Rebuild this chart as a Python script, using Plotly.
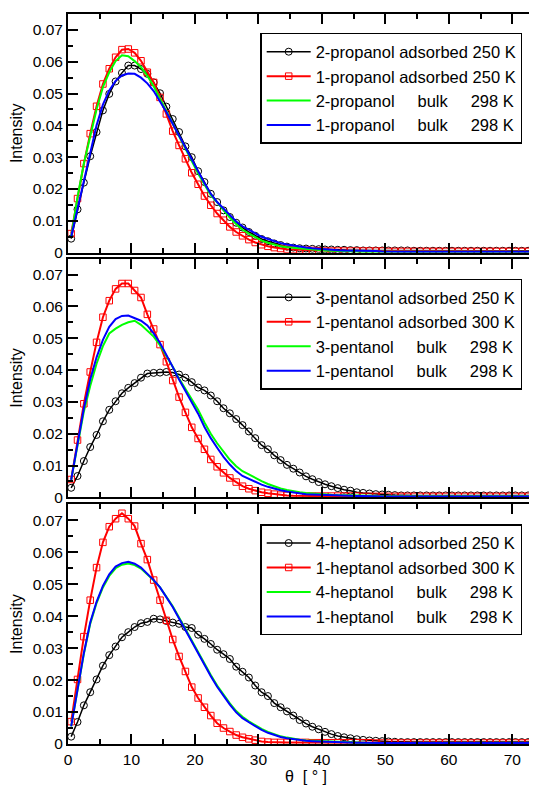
import plotly.graph_objects as go
from plotly.subplots import make_subplots

# sample grid (theta in degrees)
THETA = [k + 0.5 for k in range(74)]

# ---- panel 1: propanol ----
p1_names = ["2-propanol adsorbed 250 K", "1-propanol adsorbed 250 K",
            "2-propanol\u00a0\u00a0\u00a0\u00a0\u00a0bulk\u00a0\u00a0\u00a0\u00a0\u00a0298 K",
            "1-propanol\u00a0\u00a0\u00a0\u00a0\u00a0bulk\u00a0\u00a0\u00a0\u00a0\u00a0298 K"]
p1_black = [.0044, .0136, .022, .0303, .0379, .0447, .0499, .0538, .0565, .0588, .0588, .0577, .0562, .0535,
            .0501, .0459, .042, .0379, .0334, .030, .0256, .0222, .0185, .0159, .0133, .0112, .0094, .0079,
            .0065, .0053, .0043, .0036, .0029, .0024, .0019, .0016, .0014, .0013, .0012, .0011, .0010, .0010,
            .0009, .0009, .0008, .0008, .0007, .0007, .0007, .0007, .0007, .0007, .0007, .0007, .0006, .0006,
            .0006, .0006, .0006, .0006, .0006, .0006, .0006, .0006, .0006, .0006, .0006, .0006, .0006, .0006,
            .0006, .0006, .0006, .0006]
p1_red = [.006, .017, .028, .0374, .046, .053, .0578, .0614, .0638, .064, .0628, .0603, .0567, .0535, .0488,
          .0436, .0382, .0337, .0295, .0251, .0215, .0178, .0149, .0123, .0102, .0081, .0065, .0053, .0041,
          .0032, .0025, .0020, .0016, .0013, .0011, .0010, .0009, .0008, .0007, .0006, .0005, .0005, .0005,
          .0005, .0005, .0005, .0005, .0005, .0005, .0005, .0004, .0004, .0004, .0004, .0004, .0004, .0004,
          .0004, .0004, .0004, .0004, .0004, .0004, .0004, .0004, .0004, .0004, .0004, .0004, .0004, .0004,
          .0004, .0004, .0004]
p1_green = [.005, .0175, .028, .037, .045, .052, .0567, .0602, .062, .0617, .0602, .0583, .0556, .0523, .0484,
            .0443, .0403, .0363, .0323, .0286, .0249, .0214, .0181, .0158, .0134, .011, .009, .0072, .006,
            .0048, .0038, .0031, .0025, .0020, .0017, .0015, .0013, .0011, .0009, .0008, .0007, .0006, .0005,
            .0005, .0004, .0004, .0003, .0003, .0003, .0003, .0003, .0003, .0003, .0003, .0003, .0003, .0003,
            .0003, .0003, .0003, .0003, .0003, .0003, .0003, .0003, .0003, .0003, .0003, .0003, .0003, .0003,
            .0003, .0003, .0003]
p1_blue = [.005, .014, .022, .031, .040, .0465, .051, .054, .0557, .0563, .0562, .055, .0532, .0508, .0477,
           .0442, .0405, .0367, .033, .0293, .0257, .0219, .0185, .0159, .0139, .0117, .0098, .0083, .0072,
           .006, .005, .0043, .0036, .003, .0026, .0022, .0019, .0016, .0014, .0012, .0010, .0009, .0008,
           .0007, .0007, .0006, .0006, .0005, .0005, .0004, .0003, .0003, .0003, .0003, .0003, .0003, .0003,
           .0003, .0003, .0003, .0003, .0003, .0003, .0003, .0003, .0003, .0003, .0003, .0003, .0003, .0003,
           .0003, .0003, .0003]

# ---- panel 2: pentanol ----
p2_names = ["3-pentanol adsorbed 250 K", "1-pentanol adsorbed 300 K",
            "3-pentanol\u00a0\u00a0\u00a0\u00a0\u00a0bulk\u00a0\u00a0\u00a0\u00a0\u00a0298 K",
            "1-pentanol\u00a0\u00a0\u00a0\u00a0\u00a0bulk\u00a0\u00a0\u00a0\u00a0\u00a0298 K"]
p2_black = [.003, .0067, .0114, .0158, .0196, .0239, .0275, .0302, .0327, .0344, .0359, .0376, .0389, .0391,
            .0392, .0394, .0392, .0386, .0376, .0362, .0345, .0336, .032, .0302, .028, .0264, .0246, .0227,
            .0207, .0186, .0164, .0151, .0132, .0117, .0102, .009, .0078, .0066, .0057, .0048, .0041, .0035,
            .0029, .0024, .0021, .0016, .0014, .0012, .0010, .0009, .0008, .0007, .0006, .0006, .0006, .0006,
            .0006, .0006, .0006, .0006, .0006, .0006, .0006, .0006, .0006, .0006, .0006, .0006, .0006, .0006,
            .0006, .0006, .0006, .0006]
p2_red = [.0056, .018, .0294, .0394, .0487, .0566, .0618, .0655, .0672, .0672, .065, .0628, .0575, .0529, .048,
          .0426, .0367, .0315, .0267, .022, .0185, .0151, .0119, .0096, .0077, .0061, .0048, .0035, .0027,
          .0021, .0016, .0013, .0010, .0007, .0006, .0005, .0004, .0004, .0004, .0004, .0004, .0004, .0004,
          .0004, .0004, .0004, .0003, .0003, .0003, .0003, .0003, .0003, .0003, .0003, .0003, .0003, .0003,
          .0003, .0003, .0003, .0003, .0003, .0003, .0003, .0003, .0003, .0003, .0003, .0003, .0003, .0003,
          .0003, .0003, .0003]
p2_green = [.0055, .016, .027, .035, .042, .0475, .0515, .053, .0542, .055, .0555, .0542, .0522, .0505, .0478,
            .0446, .041, .0373, .034, .0309, .0275, .0235, .020, .017, .0142, .0118, .0098, .0082, .0072,
            .0061, .0051, .0042, .0034, .0028, .0023, .0019, .0016, .0014, .0012, .0010, .0009, .0008, .0007,
            .0007, .0006, .0006, .0005, .0005, .0004, .0004, .0003, .0003, .0003, .0003, .0003, .0003, .0003,
            .0003, .0003, .0003, .0003, .0003, .0003, .0003, .0003, .0003, .0003, .0003, .0003, .0003, .0003,
            .0003, .0003, .0003]
p2_blue = [.0055, .0165, .028, .037, .044, .0495, .0536, .056, .057, .0571, .0564, .0555, .054, .0515, .0485,
           .0449, .041, .037, .0335, .0302, .0263, .0221, .0186, .0156, .0127, .0103, .0083, .0067, .0058,
           .0048, .004, .0033, .0027, .0022, .0018, .0015, .0012, .0010, .0009, .0008, .0007, .0006, .0006,
           .0005, .0005, .0004, .0004, .0003, .0003, .0003, .0003, .0003, .0003, .0003, .0003, .0003, .0003,
           .0003, .0003, .0003, .0003, .0003, .0003, .0003, .0003, .0003, .0003, .0003, .0003, .0003, .0003,
           .0003, .0003, .0003]

# ---- panel 3: heptanol ----
p3_names = ["4-heptanol adsorbed 250 K", "1-heptanol adsorbed 300 K",
            "4-heptanol\u00a0\u00a0\u00a0\u00a0\u00a0bulk\u00a0\u00a0\u00a0\u00a0\u00a0298 K",
            "1-heptanol\u00a0\u00a0\u00a0\u00a0\u00a0bulk\u00a0\u00a0\u00a0\u00a0\u00a0298 K"]
p3_black = [.0023, .0069, .0121, .0162, .0202, .0245, .0278, .0305, .0334, .035, .0366, .0378, .0382, .0392,
            .039, .0385, .038, .0376, .0366, .0363, .0342, .0329, .0313, .0295, .0281, .0266, .0242, .0226,
            .0208, .0183, .0162, .015, .0128, .0115, .0102, .0089, .0075, .0064, .0054, .0046, .0038, .0031,
            .0025, .0021, .0018, .0015, .0013, .0011, .0010, .0009, .0008, .0007, .0006, .0006, .0006, .0006,
            .0006, .0006, .0006, .0006, .0006, .0006, .0006, .0006, .0006, .0006, .0006, .0006, .0006, .0006,
            .0006, .0006, .0006, .0006]
p3_red = [.007, .0202, .0336, .045, .0552, .0631, .068, .0705, .0722, .0705, .0682, .0627, .0577, .0513, .045,
          .0387, .0327, .0274, .0227, .0178, .0144, .0115, .0089, .0065, .005, .0039, .0028, .0021, .0016,
          .0012, .0008, .0006, .0005, .0005, .0005, .0005, .0005, .0005, .0004, .0004, .0004, .0004, .0004,
          .0004, .0004, .0004, .0004, .0004, .0003, .0003, .0003, .0003, .0003, .0003, .0003, .0003, .0003,
          .0003, .0003, .0003, .0003, .0003, .0003, .0003, .0003, .0003, .0003, .0003, .0003, .0003, .0003,
          .0003, .0003, .0003]
p3_green = [.0055, .0163, .0282, .0376, .0441, .049, .0526, .055, .0561, .0565, .056, .0549, .0532, .0512, .049,
            .0462, .0431, .0396, .036, .0323, .0287, .025, .0216, .0183, .0153, .0127, .0103, .0085, .0071,
            .0058, .0047, .0038, .003, .0024, .002, .0016, .0013, .0011, .0010, .0009, .0008, .0007, .0006,
            .0006, .0005, .0005, .0004, .0003, .0003, .0003, .0003, .0003, .0003, .0003, .0003, .0003, .0003,
            .0003, .0003, .0003, .0003, .0003, .0003, .0003, .0003, .0003, .0003, .0003, .0003, .0003, .0003,
            .0003, .0003, .0003]
p3_blue = [.0055, .0165, .0285, .038, .0445, .0495, .0531, .0555, .0566, .057, .0564, .0552, .0534, .0513, .049,
           .0461, .0429, .0393, .0356, .0319, .0283, .0246, .0212, .0179, .0149, .0123, .0099, .0081, .0068,
           .0055, .0044, .0035, .0028, .0022, .0018, .0015, .0012, .0010, .0009, .0008, .0007, .0006, .0006,
           .0005, .0005, .0004, .0004, .0003, .0003, .0003, .0003, .0003, .0003, .0003, .0003, .0003, .0003,
           .0003, .0003, .0003, .0003, .0003, .0003, .0003, .0003, .0003, .0003, .0003, .0003, .0003, .0003,
           .0003, .0003, .0003]

Y_TICKS = [0, 0.01, 0.02, 0.03, 0.04, 0.05, 0.06, 0.07]
Y_TICKTEXT = ["0", "0.01", "0.02", "0.03", "0.04", "0.05", "0.06", "0.07"]
X_TICKS = [0, 10, 20, 30, 40, 50, 60, 70]

panels = [
    (p1_names, [p1_black, p1_red, p1_green, p1_blue], "legend"),
    (p2_names, [p2_black, p2_red, p2_green, p2_blue], "legend2"),
    (p3_names, [p3_black, p3_red, p3_green, p3_blue], "legend3"),
]

FONT = "Liberation Sans, Arial, Helvetica, sans-serif"

fig = make_subplots(rows=3, cols=1, shared_xaxes=True, vertical_spacing=0.01)

for r, (names, series, leg) in enumerate(panels, start=1):
    styles = [
        dict(mode="lines+markers", line=dict(color="black", width=1.5),
             marker=dict(symbol="circle-open", size=7, color="black", line=dict(width=1, color="black"))),
        dict(mode="lines+markers", line=dict(color="#ff0000", width=2),
             marker=dict(symbol="square-open", size=6.5, color="#ff0000", line=dict(width=1, color="#ff0000"))),
        dict(mode="lines", line=dict(color="#00ff00", width=2)),
        dict(mode="lines", line=dict(color="#0000ff", width=2)),
    ]
    for name, vals, st in zip(names, series, styles):
        fig.add_trace(go.Scatter(x=THETA[:len(vals)], y=vals, name=name, legend=leg, **st),
                      row=r, col=1)

# page body has an 8px margin: the figure starts at page (8, 8)
# plot area: page x 68 -> 546 (right edge beyond the window), page y 14 -> 745
H = 731.0
PW = 478.0
domains = [[(745 - 253) / H, 1.0], [(745 - 498) / H, (745 - 259) / H], [0.0, (745 - 505) / H]]

axis_common = dict(showline=True, linewidth=2, linecolor="black", mirror="allticks",
                   ticks="inside", ticklen=10, tickwidth=1.5, tickcolor="black",
                   showgrid=False, zeroline=False,
                   tickfont=dict(family=FONT, size=15.5, color="black"))

for r in range(1, 4):
    xa = "xaxis" if r == 1 else f"xaxis{r}"
    ya = "yaxis" if r == 1 else f"yaxis{r}"
    fig.layout[xa].update(range=[0, 75], tickvals=X_TICKS, showticklabels=(r == 3),
                          minor=dict(dtick=5, tick0=0, ticks="inside", ticklen=5, tickwidth=1.5,
                                     tickcolor="black", showgrid=False),
                          **axis_common)
    fig.layout[ya].update(range=[0, 0.075], tickvals=Y_TICKS, ticktext=Y_TICKTEXT, domain=domains[r - 1],
                          minor=dict(dtick=0.005, tick0=0, ticks="inside", ticklen=5, tickwidth=1.5,
                                     tickcolor="black", showgrid=False),
                          title=dict(text="Intensity", font=dict(family=FONT, size=16, color="black"),
                                     standoff=6),
                          **axis_common)

fig.layout.xaxis3.title = dict(text="\u03b8\u00a0\u00a0[\u00a0\u00b0\u00a0]",
                               font=dict(family=FONT, size=16, color="black"), standoff=4)

leg_common = dict(bgcolor="white", bordercolor="black", borderwidth=1.5,
                  font=dict(family=FONT, size=16.5, color="black"),
                  xanchor="left", yanchor="top", tracegroupgap=0, itemwidth=44)
LX = (261 - 68) / PW
fig.update_layout(
    legend=dict(x=LX, y=(745 - 33) / H, **leg_common),
    legend2=dict(x=LX, y=(745 - 279) / H, **leg_common),
    legend3=dict(x=LX, y=(745 - 525) / H, **leg_common),
    width=540, height=777,
    margin=dict(l=60, r=2, t=6, b=40),
    plot_bgcolor="white", paper_bgcolor="white",
    showlegend=True,
)

fig.write_html("out.html")
